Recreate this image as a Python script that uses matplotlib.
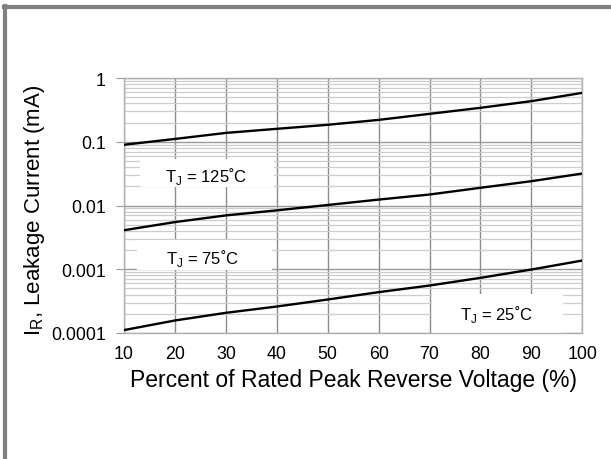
import numpy as np
import matplotlib.pyplot as plt
from matplotlib.patches import Rectangle
from matplotlib.lines import Line2D
from matplotlib.ticker import FixedLocator, FixedFormatter, LogLocator, NullFormatter

plt.rcParams['font.family'] = ['Liberation Sans', 'DejaVu Sans']
plt.rcParams['mathtext.fontset'] = 'custom'
plt.rcParams['mathtext.rm'] = 'Liberation Sans'

# percent of rated peak reverse voltage
voltage = [10, 20, 30, 40, 50, 60, 70, 80, 90, 100]

# leakage current (mA)
current_125 = [0.090, 0.111, 0.138, 0.160, 0.185, 0.221, 0.275, 0.342, 0.435, 0.587]
current_75 = [0.0041, 0.0055, 0.0070, 0.0084, 0.0102, 0.0124, 0.0149, 0.0190, 0.0241, 0.0318]
current_25 = [0.000111, 0.000157, 0.000207, 0.000260, 0.000335, 0.000437,
              0.000555, 0.000733, 0.00099, 0.00137]

y_ticks = [0.0001, 0.001, 0.01, 0.1, 1]
y_tick_labels = ['0.0001', '0.001', '0.01', '0.1', '1']

fig = plt.figure(figsize=(6.11, 4.6), dpi=100)
ax = fig.add_axes([0.203, 0.274, 0.750, 0.554])

ax.set_yscale('log')
ax.set_xlim(10, 100)
ax.set_ylim(0.0001, 1)

ax.set_xticks(voltage)
ax.yaxis.set_major_locator(FixedLocator(y_ticks))
ax.yaxis.set_major_formatter(FixedFormatter(y_tick_labels))
ax.yaxis.set_minor_locator(LogLocator(base=10, subs=np.arange(2, 10)))
ax.yaxis.set_minor_formatter(NullFormatter())

ax.set_axisbelow(True)
ax.grid(True, axis='x', which='major', color='#8c8c8c', linewidth=1.0)
ax.grid(True, axis='y', which='major', color='#9a9a9a', linewidth=1.0)
ax.grid(True, axis='y', which='minor', color='#cdcdcd', linewidth=0.9)

ax.tick_params(axis='x', length=0, pad=9, labelsize=12.8)
ax.tick_params(axis='y', which='major', length=6, color='#9a9a9a', pad=7, labelsize=12.8)
ax.tick_params(axis='y', which='minor', length=0)
for side in ax.spines.values():
    side.set_color('#b0b0b0')
    side.set_linewidth(1.0)

# white label boxes that cut the grid
boxes = [(13.1, 0.0197, 39.5, 0.054), (12.6, 0.00097, 39.1, 0.00285),
         (70.5, 0.0001, 96.2, 0.00041)]
for x0, y0, x1, y1 in boxes:
    ax.add_patch(Rectangle((x0, y0), x1 - x0, y1 - y0, facecolor='white',
                           edgecolor='none', zorder=1))

ax.plot(voltage, current_125, color='black', linewidth=1.7, zorder=3)
ax.plot(voltage, current_75, color='black', linewidth=1.7, zorder=3)
ax.plot(voltage, current_25, color='black', linewidth=1.7, zorder=3)

label_style = dict(ha='center', va='center', fontsize=12, zorder=4)
ax.text(26.1, 0.0292, r'T$_\mathregular{J}$ = 125˚C', **label_style)
ax.text(25.5, 0.00152, r'T$_\mathregular{J}$ = 75˚C', **label_style)
ax.text(83.2, 0.0002, r'T$_\mathregular{J}$ = 25˚C', **label_style)

ax.set_xlabel('Percent of Rated Peak Reverse Voltage (%)', fontsize=16.5, labelpad=4)
ax.set_ylabel(r'I$_\mathregular{R}$, Leakage Current (mA)', fontsize=16)
ax.yaxis.set_label_coords(-0.168, 0.486)

# frame of the original figure
fig.add_artist(Line2D([0.008, 0.008], [0, 0.985], transform=fig.transFigure,
                      color='#808080', linewidth=3))
fig.add_artist(Line2D([0.006, 1.0], [0.983, 0.983], transform=fig.transFigure,
                      color='#808080', linewidth=3))

fig.savefig('out.png', dpi=100)
